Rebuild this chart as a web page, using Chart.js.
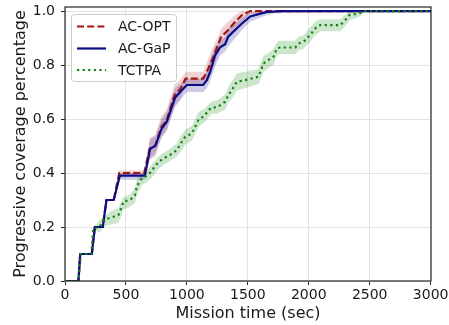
<!DOCTYPE html>
<html>
<head>
<meta charset="utf-8">
<script src="https://cdn.jsdelivr.net/npm/chart.js@4/dist/chart.umd.min.js"></script>
<style>
html,body{margin:0;padding:0;background:#fff;}
canvas{display:block;}
</style>
</head>
<body>
<canvas id="c" width="449" height="325" style="width:449px;height:325px"></canvas>
<script>
// ---- data ----
const seriesNames = ["AC-OPT", "AC-GaP", "TCTPA"];
const xTicks = [0, 500, 1000, 1500, 2000, 2500, 3000];
const yTicks = [0.0, 0.2, 0.4, 0.6, 0.8, 1.0];

const optT  = [0,110,125,220,245,310,340,400,445,650,695,740,790,835,900,945,990,1134,1164,1213,1255,1282,1339,1396,1452,1520,3003];
const optV  = [0,0,0.1,0.1,0.2,0.2,0.3,0.3,0.40,0.40,0.49,0.5,0.57,0.595,0.69,0.71,0.75,0.75,0.775,0.825,0.874,0.905,0.93,0.96,0.985,1.0,1.0];
const optHi = [0,0,0.1,0.1,0.2,0.2,0.3,0.3,0.41,0.41,0.53,0.54,0.61,0.635,0.73,0.745,0.775,0.775,0.81,0.865,0.905,0.935,0.96,0.985,1.0,1.0,1.0];
const optLo = [0,0,0.1,0.1,0.2,0.2,0.3,0.3,0.39,0.39,0.45,0.46,0.53,0.555,0.65,0.675,0.725,0.725,0.74,0.785,0.835,0.865,0.895,0.93,0.96,0.99,1.0];

const gapT  = [0,110,125,220,245,310,340,400,450,655,698,740,794,835,904,945,1000,1134,1164,1191,1232,1273,1314,1339,1396,1452,1520,1657,1790,3003];
const gapV  = [0,0,0.1,0.1,0.2,0.2,0.3,0.3,0.39,0.39,0.49,0.5,0.565,0.59,0.68,0.70,0.726,0.726,0.744,0.775,0.837,0.866,0.877,0.905,0.93,0.954,0.98,0.997,1.0,1.0];
const gapHi = [0,0,0.1,0.1,0.2,0.2,0.3,0.3,0.40,0.40,0.525,0.535,0.6,0.625,0.715,0.73,0.75,0.75,0.78,0.82,0.87,0.89,0.905,0.935,0.955,0.975,0.995,1.0,1.0,1.0];
const gapLo = [0,0,0.1,0.1,0.2,0.2,0.3,0.3,0.375,0.375,0.455,0.47,0.535,0.56,0.645,0.67,0.7,0.7,0.715,0.74,0.795,0.835,0.85,0.87,0.9,0.93,0.96,0.985,1.0,1.0];

const tctT  = [0,110,130,215,233,285,315,383,438,466,479,534,575,589,630,684,725,766,808,863,918,959,986,1041,1068,1095,1150,1177,1205,1246,1314,1341,1369,1410,1479,1588,1602,1630,1671,1711,1739,1766,1889,1917,1958,1985,2013,2040,2067,2095,2259,2300,2333,2396,2437,2450,3003];
const tctV  = [0,0,0.1,0.1,0.195,0.2,0.226,0.236,0.244,0.275,0.294,0.3,0.318,0.35,0.38,0.393,0.417,0.44,0.454,0.467,0.485,0.516,0.534,0.547,0.571,0.596,0.615,0.633,0.643,0.643,0.664,0.689,0.707,0.738,0.744,0.757,0.775,0.806,0.819,0.831,0.862,0.865,0.865,0.88,0.886,0.9,0.911,0.93,0.942,0.948,0.948,0.967,0.985,0.99,0.995,1.0,1.0];
const tctHi = [0,0,0.1,0.1,0.2,0.225,0.235,0.26,0.27,0.3,0.31,0.32,0.345,0.375,0.4,0.415,0.44,0.46,0.475,0.49,0.51,0.545,0.56,0.575,0.6,0.625,0.64,0.655,0.665,0.67,0.69,0.72,0.74,0.77,0.775,0.785,0.805,0.835,0.845,0.86,0.885,0.89,0.89,0.905,0.91,0.925,0.94,0.955,0.965,0.97,0.97,0.985,1.0,1.0,1.0,1.0,1.0];
const tctLo = [0,0,0.1,0.1,0.19,0.18,0.2,0.21,0.215,0.245,0.265,0.275,0.29,0.32,0.355,0.37,0.39,0.415,0.43,0.445,0.46,0.485,0.505,0.52,0.545,0.57,0.59,0.605,0.62,0.62,0.635,0.66,0.675,0.705,0.715,0.73,0.745,0.775,0.79,0.8,0.835,0.84,0.84,0.855,0.86,0.875,0.885,0.905,0.915,0.925,0.925,0.945,0.965,0.975,0.985,1.0,1.0];

// ---- build ----
const pts = (t, v) => t.map((x, i) => ({x: x, y: v[i]}));
const FONT = "'DejaVu Sans', sans-serif";
const C_OPT = '#a31414', C_GAP = '#0c0c86', C_TCT = '#118011';

function band(t, hi, lo, fillColor, ord) {
  return [
    {data: pts(t, hi), borderWidth: 0, pointRadius: 0, fill: '+1', backgroundColor: fillColor, order: ord},
    {data: pts(t, lo), borderWidth: 0, pointRadius: 0, fill: false, backgroundColor: fillColor, order: ord}
  ];
}

const datasets = [
  {label: seriesNames[2], data: pts(tctT, tctV), borderColor: C_TCT, borderWidth: 2.2, borderDash: [2.2, 3.4], borderCapStyle: 'butt', pointRadius: 0, fill: false, order: 0},
  {label: seriesNames[1], data: pts(gapT, gapV), borderColor: C_GAP, borderWidth: 2.2, pointRadius: 0, fill: false, order: 1},
  {label: seriesNames[0], data: pts(optT, optV), borderColor: C_OPT, borderWidth: 2.2, borderDash: [7, 3.2], borderCapStyle: 'butt', pointRadius: 0, fill: false, order: 2},
  ...band(tctT, tctHi, tctLo, 'rgba(0,128,0,0.2)', 10),
  ...band(gapT, gapHi, gapLo, 'rgba(0,0,139,0.2)', 11),
  ...band(optT, optHi, optLo, 'rgba(178,34,34,0.2)', 12)
];

const frame = {
  id: 'frame',
  afterDatasetsDraw(chart) {
    const {ctx, chartArea: a} = chart;
    ctx.save();
    ctx.strokeStyle = '#262626';
    ctx.lineWidth = 1.2;
    ctx.strokeRect(a.left, a.top, a.right - a.left, a.bottom - a.top);
    // legend
    const bx = 71.5, by = 14.5, bw = 105, bh = 67, r = 3;
    ctx.beginPath();
    ctx.moveTo(bx + r, by);
    ctx.arcTo(bx + bw, by, bx + bw, by + bh, r);
    ctx.arcTo(bx + bw, by + bh, bx, by + bh, r);
    ctx.arcTo(bx, by + bh, bx, by, r);
    ctx.arcTo(bx, by, bx + bw, by, r);
    ctx.closePath();
    ctx.fillStyle = 'rgba(255,255,255,0.8)';
    ctx.fill();
    ctx.strokeStyle = '#cccccc';
    ctx.lineWidth = 1;
    ctx.stroke();
    const items = [
      {name: seriesNames[0], color: C_OPT, dash: [7, 3.2], y: 26.5},
      {name: seriesNames[1], color: C_GAP, dash: [], y: 48.5},
      {name: seriesNames[2], color: C_TCT, dash: [2.2, 3.4], y: 70}
    ];
    ctx.font = '14px ' + FONT;
    ctx.textBaseline = 'middle';
    ctx.textAlign = 'left';
    for (const it of items) {
      ctx.beginPath();
      ctx.setLineDash(it.dash);
      ctx.lineCap = 'butt';
      ctx.strokeStyle = it.color;
      ctx.lineWidth = 2.2;
      ctx.moveTo(77, it.y);
      ctx.lineTo(106, it.y);
      ctx.stroke();
      ctx.setLineDash([]);
      ctx.fillStyle = '#1a1a1a';
      ctx.fillText(it.name, 118, it.y + 1);
    }
    ctx.restore();
  }
};

new Chart(document.getElementById('c'), {
  type: 'line',
  data: {datasets},
  options: {
    responsive: false,
    animation: false,
    devicePixelRatio: 1,
    layout: {padding: {top: 7, right: 18, left: 0, bottom: 0}},
    elements: {line: {tension: 0}},
    plugins: {legend: {display: false}, tooltip: {enabled: false}},
    scales: {
      x: {
        type: 'linear', min: 0, max: 3003,
        afterFit(s) { s.height = 44; s.paddingLeft = 0; s.paddingRight = 0; },
        afterBuildTicks(s) { s.ticks = xTicks.map(v => ({value: v})); },
        border: {display: false},
        grid: {color: '#e3e3e3', lineWidth: 1, tickColor: '#262626', tickLength: 4, drawTicks: true},
        ticks: {includeBounds: false, padding: 2, maxRotation: 0, color: '#1a1a1a', font: {family: FONT, size: 14}, callback: v => String(v)},
        title: {display: true, text: 'Mission time (sec)', color: '#1a1a1a', font: {family: FONT, size: 16}, padding: {top: 0, bottom: 2}}
      },
      y: {
        type: 'linear', min: 0, max: 1.015,
        afterFit(s) { s.width = 65; s.paddingTop = 0; s.paddingBottom = 0; },
        afterBuildTicks(s) { s.ticks = yTicks.map(v => ({value: v})); },
        border: {display: false},
        grid: {color: '#e3e3e3', lineWidth: 1, tickColor: '#262626', tickLength: 4, drawTicks: true},
        ticks: {includeBounds: false, padding: 6, color: '#1a1a1a', font: {family: FONT, size: 14}, callback: v => Number(v).toFixed(1)},
        title: {display: true, text: 'Progressive coverage percentage', color: '#1a1a1a', font: {family: FONT, size: 16}, padding: {top: 11, bottom: 0}}
      }
    }
  },
  plugins: [frame]
});
</script>
</body>
</html>
